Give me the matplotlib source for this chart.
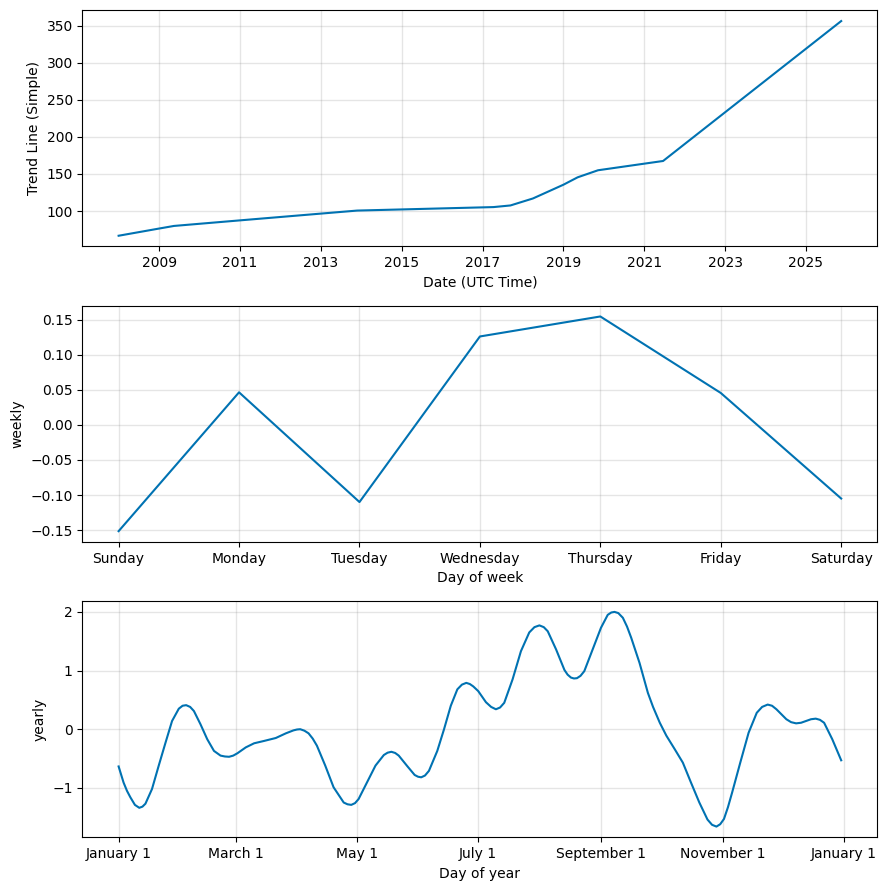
import matplotlib
matplotlib.use("Agg")
import matplotlib.pyplot as plt
import matplotlib.dates as mdates
from matplotlib.ticker import FuncFormatter
import pandas as pd

# trend component (changepoint knots)
trend_dates = ["2008-01-01", "2009-01-01", "2009-05-15", "2011-01-01", "2013-11-25",
               "2017-04-10", "2017-09-10", "2018-04-01", "2019-01-01", "2019-05-10",
               "2019-11-10", "2021-06-20", "2025-11-15"]
trend_values = [66.8, 76.5, 80.0, 87.5, 100.7, 105.4, 107.6, 117.0, 135.5, 145.5,
                155.0, 167.5, 356.0]
trend_ticks = ["2009-01-01", "2011-01-01", "2013-01-01", "2015-01-01", "2017-01-01",
               "2019-01-01", "2021-01-01", "2023-01-01", "2025-01-01"]

# weekly component
days = ["Sunday", "Monday", "Tuesday", "Wednesday", "Thursday", "Friday", "Saturday"]
weekly_values = [-0.1515, 0.0464, -0.110, 0.126, 0.1545, 0.0455, -0.105]

# yearly component (day of year, value)
yearly_days = [0, 1.2, 2.5, 4.2, 5.9, 8.2, 10.4, 12, 13.5, 16.8, 20.2, 23.6, 26.9,
               30.3, 32.2, 34, 36, 37.9, 41.2, 44.6, 48, 51.3, 53.5, 55.6, 57.7, 59.8,
               64, 68.2, 73.2, 79.1, 84.2, 88, 89.8, 91.4, 93.5, 95.6, 97.7, 99.8,
               104, 108.2, 113.3, 115.2, 117.1, 119, 120.8, 125, 129.3, 133.5, 135.4,
               137.3, 139.2, 141, 145.3, 149, 150.7, 152.3, 154.2, 156.2, 160.4,
               163.8, 167.2, 170.5, 172.8, 175, 176.8, 178.5, 181, 184.9, 187.5,
               189.9, 192, 194.1, 198.3, 202.5, 206.7, 209.3, 211.8, 214, 216, 220.2,
               224.4, 226, 227.7, 229.2, 230.7, 232.5, 234.4, 238.6, 242.8, 246.2,
               248, 249.6, 251.5, 253.8, 255.9, 258, 262.2, 266.4, 269, 272.4, 275.7,
               279.9, 284, 288.1, 292.3, 296.4, 298.7, 300.9, 302.8, 304.7, 306.7,
               308.8, 312.9, 317.1, 321.2, 323.9, 326.7, 328.9, 331.1, 336.1, 338.5,
               341, 343.5, 346, 348.5, 350.9, 353, 355.1, 359.2, 363.7]
yearly_values = [-0.635, -0.77, -0.91, -1.05, -1.16, -1.29, -1.34, -1.32, -1.27,
                 -1.02, -0.62, -0.23, 0.14, 0.35, 0.40, 0.41, 0.38, 0.31, 0.085,
                 -0.17, -0.37, -0.45, -0.465, -0.47, -0.45, -0.41, -0.31, -0.24,
                 -0.20, -0.15, -0.07, -0.02, -0.005, 0.0, -0.025, -0.07, -0.16,
                 -0.28, -0.62, -0.99, -1.25, -1.28, -1.29, -1.26, -1.19, -0.91, -0.62,
                 -0.44, -0.40, -0.385, -0.405, -0.45, -0.63, -0.78, -0.81, -0.82,
                 -0.79, -0.71, -0.37, 0.0, 0.40, 0.68, 0.76, 0.79, 0.77, 0.73, 0.65,
                 0.46, 0.38, 0.34, 0.37, 0.45, 0.85, 1.33, 1.65, 1.74, 1.77, 1.74,
                 1.67, 1.36, 1.01, 0.93, 0.88, 0.865, 0.87, 0.91, 0.99, 1.36, 1.73,
                 1.95, 1.99, 2.0, 1.98, 1.90, 1.75, 1.56, 1.13, 0.62, 0.38, 0.11,
                 -0.11, -0.34, -0.57, -0.91, -1.25, -1.54, -1.63, -1.66, -1.62, -1.53,
                 -1.33, -1.08, -0.57, -0.06, 0.28, 0.38, 0.42, 0.40, 0.34, 0.17, 0.12,
                 0.10, 0.11, 0.14, 0.17, 0.18, 0.16, 0.11, -0.17, -0.53]

LINE = "#0072B2"


def style_grid(ax):
    ax.grid(True, which="major", c="gray", ls="-", lw=1, alpha=0.2)


fig = plt.figure(figsize=(8.86, 8.90), dpi=100)

# trend
ax1 = fig.add_subplot(3, 1, 1)
ax1.plot(pd.to_datetime(trend_dates), trend_values, ls="-", c=LINE)
ax1.set_xticks(pd.to_datetime(trend_ticks))
ax1.xaxis.set_major_formatter(mdates.DateFormatter("%Y"))
ax1.set_xlabel("Date (UTC Time)")
ax1.set_ylabel("Trend Line (Simple)")
style_grid(ax1)

# weekly
ax2 = fig.add_subplot(3, 1, 2)
ax2.plot(range(len(days)), weekly_values, ls="-", c=LINE)
ax2.set_xticks(range(len(days)))
ax2.set_xticklabels(days)
ax2.set_xlabel("Day of week")
ax2.set_ylabel("weekly")
style_grid(ax2)

# yearly
ax3 = fig.add_subplot(3, 1, 3)
start = pd.Timestamp("2017-01-01")
yearly_x = [start + pd.Timedelta(days=d) for d in yearly_days]
ax3.plot(yearly_x, yearly_values, ls="-", c=LINE)
ax3.xaxis.set_major_locator(mdates.MonthLocator(bymonth=range(1, 13), bymonthday=1, interval=2))
ax3.xaxis.set_major_formatter(FuncFormatter(
    lambda x, pos: "{dt:%B} {dt.day}".format(dt=mdates.num2date(x))))
ax3.set_xlabel("Day of year")
ax3.set_ylabel("yearly")
style_grid(ax3)

fig.subplots_adjust(left=0.0931, right=0.9902, top=0.9884, bottom=0.0592, hspace=0.251)
fig.savefig("out.png", dpi=100)
